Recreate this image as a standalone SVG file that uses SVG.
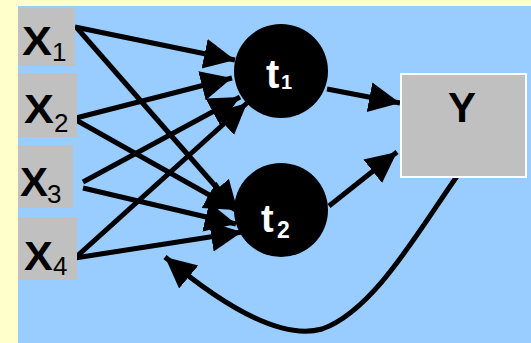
<svg xmlns="http://www.w3.org/2000/svg" width="531" height="343" viewBox="0 0 531 343">
<style>
.box{fill:#C0C0C0}
.lab{font-family:"Liberation Sans",Arial,sans-serif;font-weight:bold;fill:#000}
.sub{font-family:"Liberation Sans",Arial,sans-serif;fill:#000}
.wt{font-family:"Liberation Sans",Arial,sans-serif;font-weight:bold;fill:#fff}
.ln{stroke:#000;stroke-width:5;fill:none;marker-end:url(#ah)}
</style>
<defs>
<marker id="ah" markerUnits="userSpaceOnUse" markerWidth="34" markerHeight="32" refX="31" refY="15" orient="auto">
<path d="M0,0 L31,15 L0,30 z" fill="#000"/>
</marker>
</defs>
<rect x="0" y="0" width="531" height="343" fill="#FFFFCC"/>
<rect x="18" y="6" width="513" height="337" fill="#99CCFF"/>
<g id="connectors">
<line class="ln" x1="75" y1="27" x2="235" y2="60"/>
<line class="ln" x1="76" y1="118" x2="232" y2="78"/>
<line class="ln" x1="83" y1="182" x2="240" y2="97"/>
<line class="ln" x1="75" y1="258" x2="247" y2="103"/>
<line class="ln" x1="77" y1="28" x2="238" y2="212"/>
<line class="ln" x1="76" y1="120" x2="236" y2="210"/>
<line class="ln" x1="83" y1="188" x2="236" y2="224"/>
<line class="ln" x1="75" y1="258" x2="242" y2="232"/>
<line class="ln" x1="327" y1="89" x2="400" y2="103"/>
<line class="ln" x1="329" y1="206" x2="397" y2="152"/>
<path class="ln" d="M460,172 C420,228 375,310 322,329 C290,338 240,320 165,257"/>
</g>
<g id="X1"><rect class="box" x="18" y="8" width="57" height="58"/><text class="lab" x="22" y="55" font-size="40" transform="translate(22 55) scale(1.12 1) translate(-22 -55)">X</text><text class="sub" x="52" y="61" font-size="26">1</text></g>
<g id="X2"><rect class="box" x="18" y="73" width="59" height="64"/><text class="lab" x="24" y="123" font-size="40" transform="translate(24 123) scale(1.12 1) translate(-24 -123)">X</text><text class="sub" x="54" y="132" font-size="26">2</text></g>
<g id="X3"><rect class="box" x="18" y="145" width="55" height="63"/><text class="lab" x="20" y="196" font-size="40" transform="translate(20 196) scale(1.05 1) translate(-20 -196)">X</text><text class="sub" x="47" y="203" font-size="26">3</text></g>
<g id="X4"><rect class="box" x="18" y="217" width="59" height="63"/><text class="lab" x="24" y="270" font-size="40" transform="translate(24 270) scale(1.08 1) translate(-24 -270)">X</text><text class="sub" x="53" y="275" font-size="26">4</text></g>
<g id="t1"><circle cx="281" cy="71" r="47" fill="#000"/><text class="wt" x="266" y="88" font-size="40">t</text><text class="wt" x="281" y="89" font-size="20">1</text></g>
<g id="t2"><circle cx="281" cy="210" r="47" fill="#000"/><text class="wt" x="261" y="232" font-size="38">t</text><text class="wt" x="277" y="238" font-size="23">2</text></g>
<g id="Y"><rect x="401" y="74" width="125" height="103" fill="#C0C0C0" stroke="#fff" stroke-width="2"/><text class="lab" x="462" y="122" font-size="42" text-anchor="middle">Y</text></g>
</svg>
